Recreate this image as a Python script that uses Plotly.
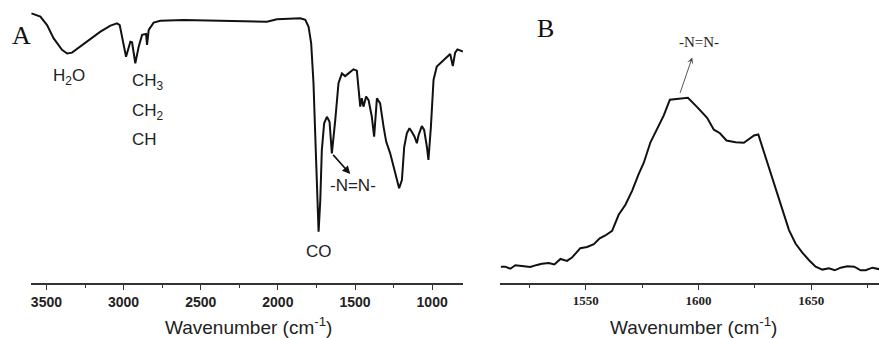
import plotly.graph_objects as go

# Panel A: FTIR spectrum (wavenumber, transmittance %)
ftir_wn = [3597, 3539, 3496, 3453, 3399, 3366, 3334, 3280, 3215, 3150, 3085, 3042, 3025, 3008,
           2984, 2956, 2945, 2924, 2902, 2880, 2854, 2848, 2837, 2805, 2762, 2610, 2287, 2071,
           2006, 1855, 1822, 1801, 1784, 1769, 1758, 1747, 1736, 1725, 1715, 1700, 1682, 1665,
           1650, 1628, 1607, 1585, 1564, 1542, 1510, 1488, 1477, 1466, 1456, 1445, 1428, 1412,
           1391, 1376, 1358, 1337, 1315, 1298, 1272, 1250, 1229, 1214, 1196, 1181, 1164, 1147,
           1132, 1114, 1099, 1088, 1067, 1052, 1034, 1024, 1008, 991, 970, 926, 883, 866, 851,
           836, 801]
ftir_t = [95.0, 93.8, 90.7, 85.8, 81.6, 80.3, 80.6, 82.8, 85.5, 88.3, 90.5, 91.3, 90.7, 86.4,
          79.1, 84.6, 84.4, 76.7, 82.8, 87.1, 87.4, 83.4, 88.9, 91.6, 92.3, 92.6, 92.3, 91.9,
          92.8, 93.2, 92.6, 90.1, 84.0, 69.4, 51.0, 29.0, 15.0, 26.6, 44.9, 54.7, 57.1, 55.3,
          43.7, 55.9, 69.4, 73.0, 72.0, 73.0, 74.5, 74.0, 65.7, 60.8, 63.9, 60.8, 64.5, 63.2,
          57.1, 49.8, 63.9, 62.0, 53.5, 48.0, 43.7, 38.8, 33.9, 30.9, 33.9, 46.1, 51.0, 52.9,
          51.6, 49.8, 47.4, 50.4, 53.7, 52.3, 46.1, 41.3, 53.5, 70.6, 75.5, 77.9, 80.1, 75.7,
          80.6, 81.8, 81.0]

# Panel B: zoomed band (wavenumber, intensity a.u.)
band_wn = [1512.4, 1514.3, 1516.6, 1518.8, 1521.7, 1525.4, 1528.4, 1530.6, 1533.6, 1536.1,
           1538.8, 1541.7, 1543.9, 1547.6, 1550.6, 1553.6, 1556.2, 1558.7, 1561.7, 1564.6,
           1567.6, 1570.6, 1573.5, 1575.7, 1578.7, 1581.7, 1584.6, 1587.3, 1591.3, 1595.3,
           1599.4, 1603.8, 1606.8, 1609.5, 1612.4, 1616.4, 1620.1, 1622.3, 1624.6, 1626.5,
           1629.7, 1633.4, 1637.1, 1640.1, 1643.0, 1646.0, 1649.0, 1651.9, 1654.9, 1657.8,
           1660.4, 1663.0, 1666.0, 1669.0, 1671.9, 1674.1, 1677.1, 1680.3]
band_i = [2.5, 2.5, 1.3, 3.3, 2.9, 2.3, 3.5, 4.2, 4.6, 3.8, 6.9, 5.8, 7.7, 13.1, 13.8, 15.4,
          18.8, 20.4, 23.1, 32.3, 38.1, 46.2, 55.8, 62.1, 74.0, 81.7, 89.4, 98.5, 99.2, 99.6,
          94.2, 88.1, 81.2, 79.2, 75.0, 74.0, 73.7, 75.8, 77.9, 78.5, 65.4, 50.0, 34.6, 23.5,
          15.8, 10.6, 6.2, 2.5, 0.8, 1.5, 0.4, 1.9, 2.7, 2.5, 0.4, 0.4, 1.9, 1.0]

ticks_a = [3500, 3000, 2500, 2000, 1500, 1000]
ticks_b = [1550, 1600, 1650]

W, H = 879, 338
L, R, T, B = 31, 0, 5, 55

fig = go.Figure()
fig.add_trace(go.Scatter(x=ftir_wn, y=ftir_t, mode="lines",
                         line=dict(color="#111111", width=2), xaxis="x", yaxis="y"))
fig.add_trace(go.Scatter(x=band_wn, y=band_i, mode="lines",
                         line=dict(color="#111111", width=2), xaxis="x2", yaxis="y2"))

pw = W - L - R
axA_end = (463 - L) / pw
axB_start = (500 - L) / pw

common_x = dict(showgrid=False, zeroline=False, showline=True, linecolor="#333333",
                linewidth=1.5, ticks="outside", ticklen=5, tickwidth=1.2, tickcolor="#333333",
                mirror=False)

fig.update_layout(
    width=W, height=H, margin=dict(l=L, r=R, t=T, b=B),
    paper_bgcolor="white", plot_bgcolor="white", showlegend=False,
    xaxis=dict(common_x, domain=[0, axA_end], range=[3600, 800], anchor="y",
               tickvals=ticks_a, ticktext=[f"<b>{v}</b>" for v in ticks_a],
               tickfont=dict(family="Liberation Sans, Arial", size=14, color="#222222"),
               minor=dict(tickvals=[3250, 2750, 2250, 1750, 1250], ticks="outside",
                          ticklen=3, tickcolor="#333333")),
    yaxis=dict(domain=[0, 1], range=[-3.8, 98.05], visible=False, anchor="x"),
    xaxis2=dict(common_x, domain=[axB_start, 1], range=[1512, 1680], anchor="y2",
                tickvals=ticks_b, ticktext=[f"<b>{v}</b>" for v in ticks_b],
                tickfont=dict(family="Liberation Serif, Times New Roman", size=13, color="#222222"),
                minor=dict(tickvals=[1525, 1575, 1625, 1675], ticks="outside",
                           ticklen=3, tickcolor="#333333")),
    yaxis2=dict(domain=[0, 1], range=[-6.9, 152.9], visible=False, anchor="x2"),
)

sans = "Liberation Sans, Arial"
serif = "Liberation Serif, Times New Roman"

def py(p):
    return (H - B - p) / (H - T - B)

def px(p):
    return (p - L) / pw

ann = [
    # axis titles
    dict(text="Wavenumber (cm<sup>-1</sup>)", xref="paper", yref="paper", x=px(248), y=py(326),
         xanchor="center", yanchor="middle",
         showarrow=False, font=dict(family=sans, size=19, color="#222222")),
    dict(text="Wavenumber (cm<sup>-1</sup>)", xref="paper", yref="paper", x=px(693), y=py(326),
         xanchor="center", yanchor="middle",
         showarrow=False, font=dict(family=sans, size=19, color="#222222")),
    # panel letters
    dict(text="A", xref="paper", yref="paper", x=px(10), y=py(35), xanchor="left",
         yanchor="middle", showarrow=False, font=dict(family=serif, size=26, color="#111111")),
    dict(text="B", xref="paper", yref="paper", x=px(545), y=py(28), xanchor="center",
         yanchor="middle", showarrow=False, font=dict(family=serif, size=26, color="#111111")),
    # panel A labels
    dict(text="H<sub>2</sub>O", xref="x", yref="y", x=3355, y=71.8, showarrow=False,
         font=dict(family=sans, size=17, color="#222222")),
    dict(text="CH<sub>3</sub>", xref="x", yref="y", x=2956, y=70.0, xanchor="left", showarrow=False,
         font=dict(family=sans, size=17, color="#222222")),
    dict(text="CH<sub>2</sub>", xref="x", yref="y", x=2956, y=59.0, xanchor="left", showarrow=False,
         font=dict(family=sans, size=17, color="#222222")),
    dict(text="CH", xref="x", yref="y", x=2956, y=48.8, xanchor="left", showarrow=False,
         font=dict(family=sans, size=17, color="#222222")),
    dict(text="CO", xref="x", yref="y", x=1736, y=7.7, showarrow=False,
         font=dict(family=sans, size=17, color="#222222")),
    dict(text="-N=N-", xref="x", yref="y", x=1510, y=32.1, showarrow=False,
         font=dict(family=sans, size=17, color="#222222")),
    dict(text="", xref="x", yref="y", x=1531, y=36.1, axref="x", ayref="y", ax=1650, ay=43.7,
         showarrow=True, arrowhead=2, arrowsize=1, arrowwidth=1.6, arrowcolor="#111111",
         standoff=0, startstandoff=0),
    # panel B labels
    dict(text="-N=N-", xref="x2", yref="y2", x=1600.1, y=131.7, showarrow=False,
         font=dict(family=serif, size=15, color="#222222")),
    dict(text="", xref="x2", yref="y2", x=1597.2, y=122.7, axref="x2", ayref="y2", ax=1591.6, ay=101.5,
         showarrow=True, arrowhead=3, arrowsize=1.2, arrowwidth=0.9, arrowcolor="#444444",
         standoff=0, startstandoff=0),
]
fig.update_layout(annotations=ann)

fig.write_html("out.html")
